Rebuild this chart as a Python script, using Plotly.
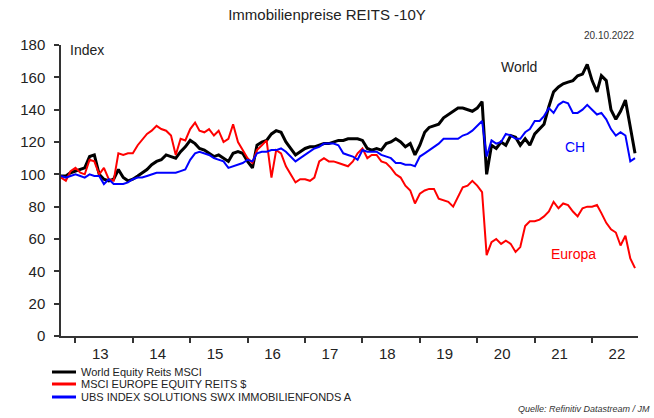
import plotly.graph_objects as go
import pandas as pd

dates = pd.date_range("2012-10-01", "2022-10-01", freq="MS").strftime("%Y-%m-%d").tolist()

world = [99, 99, 101, 102, 103, 104, 111, 112, 100, 97, 96, 97, 103, 98, 96, 97, 99, 101, 103, 106,
         108, 109, 112, 111, 110, 114, 117, 121, 119, 116, 115, 113, 111, 112, 110, 108, 113, 114, 113, 108,
         104, 118, 120, 121, 125, 127, 126, 120, 116, 112, 114, 116, 117, 117, 118, 119, 119, 120, 121, 121,
         122, 122, 122, 121, 116, 115, 116, 115, 119, 120, 122, 120, 117, 119, 112, 118, 126, 129, 130, 131,
         135, 137, 139, 141, 141, 140, 139, 141, 145, 100, 118, 116, 120, 118, 124, 123, 118, 122, 118, 125,
         128, 131, 142, 151, 154, 156, 157, 158, 161, 162, 168, 158, 151, 161, 158, 140, 134, 139, 146, 128,
         113]

europe = [98, 96, 102, 104, 101, 100, 109, 108, 100, 104, 97, 96, 113, 112, 113, 113, 118, 121, 125, 127,
          130, 128, 127, 124, 112, 122, 121, 128, 132, 127, 126, 128, 124, 127, 120, 122, 131, 120, 115, 110,
          107, 115, 118, 121, 98, 115, 113, 105, 100, 95, 97, 97, 96, 98, 108, 110, 108, 108, 107, 106,
          105, 108, 113, 116, 110, 112, 112, 108, 107, 104, 100, 98, 93, 90, 82, 88, 90, 91, 91, 85,
          84, 83, 80, 86, 92, 93, 96, 93, 89, 50, 58, 60, 57, 59, 57, 52, 55, 68, 71, 71,
          72, 74, 77, 83, 79, 82, 81, 77, 74, 79, 80, 80, 81, 76, 70, 66, 64, 56, 62, 48,
          42]

swiss = [99, 98, 99, 100, 99, 98, 100, 99, 99, 94, 97, 94, 94, 94, 95, 97, 98, 98, 99, 100,
         101, 101, 101, 101, 101, 102, 103, 109, 113, 114, 113, 112, 110, 109, 108, 104, 105, 106, 107, 109,
         108, 113, 114, 114, 115, 115, 116, 114, 111, 108, 110, 112, 114, 116, 117, 119, 119, 119, 118, 113,
         112, 111, 109, 115, 114, 114, 114, 112, 111, 110, 107, 107, 106, 106, 105, 111, 113, 115, 117, 119,
         122, 122, 122, 122, 124, 125, 127, 130, 133, 111, 121, 119, 120, 125, 124, 122, 122, 126, 128, 133,
         133, 136, 141, 138, 143, 145, 144, 138, 138, 140, 143, 140, 137, 138, 134, 128, 124, 126, 124, 108,
         110]

series_names = ["World Equity Reits MSCI", "MSCI EUROPE EQUITY REITS $", "UBS INDEX SOLUTIONS SWX IMMOBILIENFONDS A"]
series_colors = ["#000000", "#FF0000", "#0000FF"]
series_widths = [3, 2, 2]
y_ticks = [0, 20, 40, 60, 80, 100, 120, 140, 160, 180]
year_labels = ["13", "14", "15", "16", "17", "18", "19", "20", "21", "22"]
year_label_pos = ["20%s-06-08" % y for y in year_labels]

fig = go.Figure()
for vals, name, col, w in zip([world, europe, swiss], series_names, series_colors, series_widths):
    fig.add_trace(go.Scatter(x=dates, y=vals, name=name, mode="lines",
                             line=dict(color=col, width=w), showlegend=False))

font_family = "Liberation Sans, Arial, sans-serif"

fig.update_layout(
    width=654, height=418,
    margin=dict(l=61, r=16, t=45, b=82, autoexpand=False),
    paper_bgcolor="white", plot_bgcolor="white",
    font=dict(family=font_family, color="#222222"),
    title=dict(text="Immobilienpreise REITS -10Y", x=0.5, xref="container", xanchor="center",
               y=1 - 15 / 418, yref="container", yanchor="middle",
               font=dict(size=15, color="#222222")),
    showlegend=False,
    xaxis=dict(type="date", range=["2012-10-01", "2022-10-20"],
               tickvals=year_label_pos, ticktext=year_labels, ticks="",
               minor=dict(dtick="M12", tick0="2013-01-01", ticks="outside", ticklen=5,
                          tickcolor="#333333", tickwidth=1.5, showgrid=False),
               showgrid=False, zeroline=False, showline=True, linecolor="#333333", linewidth=1.5,
               ticklabelstandoff=3,
               tickfont=dict(size=15, color="#222222")),
    yaxis=dict(range=[0, 180], tickvals=y_ticks, showgrid=False, zeroline=False,
               showline=True, linecolor="#333333", linewidth=1.5,
               ticks="outside", ticklen=5, tickcolor="#333333", tickwidth=1.5,
               ticklabelstandoff=6,
               tickfont=dict(size=15, color="#222222")),
)

# custom legend (below the plot, left)
leg_rows_px = [372, 384, 397]
for name, col, ypx in zip(series_names, series_colors, leg_rows_px):
    yp = (336 - ypx) / 291
    fig.add_shape(type="line", xref="paper", yref="paper",
                  x0=(52 - 61) / 577, x1=(76 - 61) / 577, y0=yp, y1=yp,
                  line=dict(color=col, width=3))
    fig.add_annotation(text=name, xref="paper", yref="paper", x=(79 - 61) / 577, y=yp,
                       xanchor="left", yanchor="middle", showarrow=False,
                       font=dict(size=11, color="#222222"))

annots = [
    dict(text="20.10.2022", x=0.9965, y=1.031, xanchor="right", yanchor="middle",
         font=dict(size=10, color="#333333")),
    dict(text="Index", x=0.012, y=0.983, xanchor="left", yanchor="middle",
         font=dict(size=14, color="#222222")),
    dict(text="World", x=0.794, y=0.924, xanchor="center", yanchor="middle",
         font=dict(size=14, color="#222222")),
    dict(text="CH", x=0.891, y=0.649, xanchor="center", yanchor="middle",
         font=dict(size=14, color="#0000FF")),
    dict(text="Europa", x=0.889, y=0.282, xanchor="center", yanchor="middle",
         font=dict(size=14, color="#FF0000")),
    dict(text="<i>Quelle: Refinitiv Datastream / JM</i>", x=(652 - 61) / 577, y=(336 - 409) / 291,
         xanchor="right", yanchor="middle", font=dict(size=9, color="#333333")),
]
for a in annots:
    fig.add_annotation(xref="paper", yref="paper", showarrow=False, **a)

fig.write_html("out.html", config={"displayModeBar": False},
               post_script="document.body.style.margin='0';document.body.style.padding='0';")
